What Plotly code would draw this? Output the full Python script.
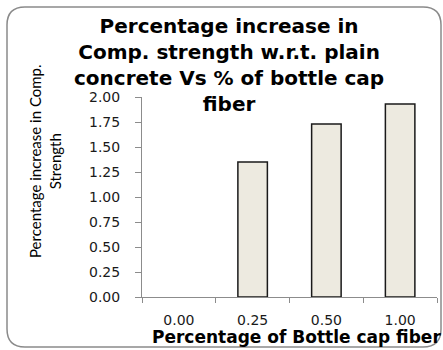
import plotly.graph_objects as go

# Data
categories = ["0.00", "0.25", "0.50", "1.00"]
values = [0.0, 1.35, 1.73, 1.93]
y_ticks = [0, 0.25, 0.5, 0.75, 1.0, 1.25, 1.5, 1.75, 2.0]

title_text = ("Percentage increase in<br>Comp. strength w.r.t. plain<br>"
              "concrete Vs % of bottle cap<br>fiber")
ytitle_text = "Percentage increase in Comp.<br>Strength"
xtitle_text = "Percentage of Bottle cap fiber"

W, H = 443, 350
ML, MR, MT, MB = 142, 6, 97, 53
PW, PH = W - ML - MR, H - MT - MB


def px(x):
    return (x - ML) / PW


def py(y):
    return (H - MB - y) / PH


fig = go.Figure()
fig.add_trace(go.Bar(
    x=categories, y=values, width=0.4,
    marker=dict(color="#EDEAE0",
                line=dict(color="#1a1a1a",
                          width=[0 if v == 0 else 1.5 for v in values])),
    hoverinfo="x+y",
))

# rounded border
x0, x1, y0, y1, r = 7, 441, 7, 347, 18
path = (f"M {px(x0 + r)},{py(y0)} L {px(x1 - r)},{py(y0)} "
        f"Q {px(x1)},{py(y0)} {px(x1)},{py(y0 + r)} "
        f"L {px(x1)},{py(y1 - r)} Q {px(x1)},{py(y1)} {px(x1 - r)},{py(y1)} "
        f"L {px(x0 + r)},{py(y1)} Q {px(x0)},{py(y1)} {px(x0)},{py(y1 - r)} "
        f"L {px(x0)},{py(y0 + r)} Q {px(x0)},{py(y0)} {px(x0 + r)},{py(y0)} Z")

fig.update_layout(
    width=W, height=H,
    margin=dict(l=ML, r=MR, t=MT, b=MB, pad=0),
    paper_bgcolor="white", plot_bgcolor="white",
    showlegend=False,
    xaxis=dict(
        type="category", range=[-0.5, 3.5],
        showline=True, linecolor="#8c8c8c", linewidth=1,
        ticks="outside", tickson="boundaries", ticklen=5, tickcolor="#8c8c8c",
        tickfont=dict(family="DejaVu Sans", size=14, color="#1a1a1a"),
        ticklabelstandoff=10,
        showgrid=False, zeroline=False, fixedrange=True,
    ),
    yaxis=dict(
        range=[0, 2], tickvals=y_ticks, tickformat=".2f",
        showline=True, linecolor="#8c8c8c", linewidth=1,
        ticks="outside", ticklen=6, tickcolor="#8c8c8c",
        tickfont=dict(family="DejaVu Sans", size=14, color="#1a1a1a"),
        ticklabelstandoff=12,
        showgrid=False, zeroline=False, fixedrange=True,
    ),
    shapes=[dict(type="path", path=path, xref="paper", yref="paper",
                 line=dict(color="#8a8a8a", width=1.5), layer="below")],
    annotations=[
        dict(text=title_text, xref="paper", yref="paper",
             x=px(229), y=py(65), xanchor="center", yanchor="middle",
             showarrow=False,
             font=dict(family="DejaVu Sans", size=20, color="#000000", weight="bold")),
        dict(text=ytitle_text, textangle=-90, xref="paper", yref="paper",
             x=px(45), y=py(161), xanchor="center", yanchor="middle",
             showarrow=False,
             font=dict(family="Lato", size=15, color="#000000")),
        dict(text=xtitle_text, xref="paper", yref="paper",
             x=px(150), y=py(337), xanchor="left", yanchor="middle",
             showarrow=False,
             font=dict(family="DejaVu Sans", size=17, color="#000000", weight="bold")),
    ],
)

fig.write_html("out.html")
